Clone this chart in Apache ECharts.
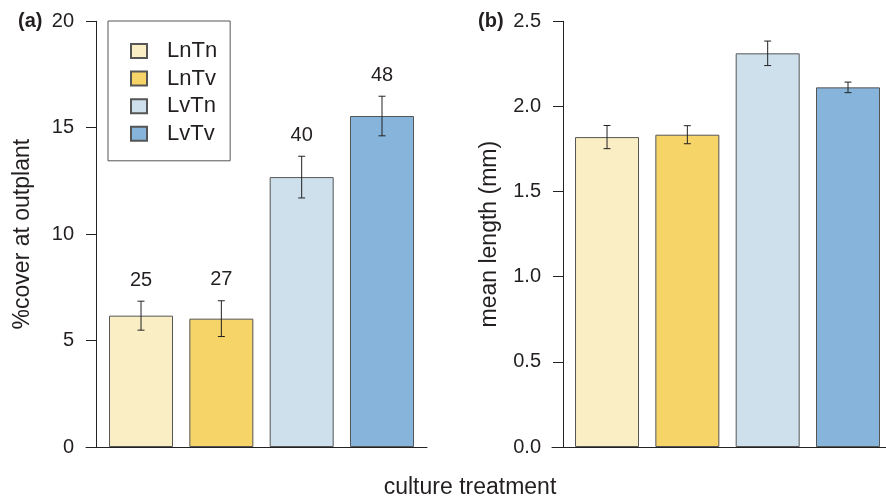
<!DOCTYPE html>
<html>
<head>
<meta charset="utf-8">
<script src="https://cdn.jsdelivr.net/npm/echarts@6/dist/echarts.min.js"></script>
<style>
html,body{margin:0;padding:0;background:#fff;}
#chart{width:886px;height:498px;}
</style>
</head>
<body>
<div id="chart"></div>
<script>
// ---- data ----
const categories = ['LnTn', 'LnTv', 'LvTn', 'LvTv'];
const coverMean = [6.17, 6.03, 12.68, 15.55];
const coverErr = [0.68, 0.84, 0.98, 0.93];
const coverN = [25, 27, 40, 48];
const lengthMean = [1.82, 1.834, 2.312, 2.112];
const lengthErr = [0.068, 0.053, 0.072, 0.031];
const coverTicks = [0, 5, 10, 15, 20];
const lengthTicks = ['0.0', '0.5', '1.0', '1.5', '2.0', '2.5'];
const colors = ['#F9EEC4', '#F6D468', '#CFE0ED', '#86B4DB'];

const TXT = '#231f20';
const FONT = '"Liberation Sans", Arial, Helvetica, sans-serif';

const chart = echarts.init(document.getElementById('chart'), null, {renderer: 'canvas'});

function barSeries(gi, means) {
  return categories.map((c, i) => ({
    name: c,
    type: 'bar',
    xAxisIndex: gi, yAxisIndex: gi,
    stack: 'g' + gi,
    barWidth: 64,
    data: [[i + 1, means[i]]],
    itemStyle: {color: colors[i], borderColor: '#555', borderWidth: 1},
    emphasis: {disabled: true},
    silent: true,
    z: 2
  }));
}

function errSeries(gi, means, errs, ns) {
  return {
    type: 'custom',
    xAxisIndex: gi, yAxisIndex: gi,
    silent: true,
    z: 5,
    data: means.map((m, i) => [i + 1, m - errs[i], m + errs[i], ns ? ns[i] : null]),
    renderItem: function (params, api) {
      const x = api.value(0);
      const top = api.coord([x, api.value(2)]);
      const bot = api.coord([x, api.value(1)]);
      const cap = 3.5;
      const st = {stroke: '#222', lineWidth: 1};
      const children = [
        {type: 'line', shape: {x1: top[0], y1: top[1], x2: bot[0], y2: bot[1]}, style: st},
        {type: 'line', shape: {x1: top[0] - cap, y1: top[1], x2: top[0] + cap, y2: top[1]}, style: st},
        {type: 'line', shape: {x1: bot[0] - cap, y1: bot[1], x2: bot[0] + cap, y2: bot[1]}, style: st}
      ];
      const n = api.value(3);
      if (n !== null && !isNaN(n)) {
        children.push({type: 'text', style: {
          text: String(n), x: top[0], y: top[1] - 21,
          align: 'center', verticalAlign: 'middle',
          font: '20px ' + FONT, fill: TXT
        }});
      }
      return {type: 'group', children: children};
    }
  };
}

function yAxisCfg(gi, max, interval, name, fmt) {
  return {
    type: 'value', gridIndex: gi, min: 0, max: max, interval: interval,
    offset: gi === 0 ? -10 : -11,
    name: name, nameLocation: 'middle', nameGap: 62, nameRotate: 90,
    nameTextStyle: {fontSize: 23, color: TXT, fontFamily: FONT},
    axisLine: {show: true, lineStyle: {color: '#222', width: 1}},
    axisTick: {show: true, length: 10, lineStyle: {color: '#222', width: 1}},
    axisLabel: {fontSize: 20, color: TXT, fontFamily: FONT, margin: 22, formatter: fmt},
    splitLine: {show: false}
  };
}

function xAxisCfg(gi, min, max) {
  return {
    type: 'value', gridIndex: gi, min: min, max: max,
    axisLine: {show: true, onZero: false, lineStyle: {color: '#222', width: 1}},
    axisTick: {show: false}, axisLabel: {show: false}, splitLine: {show: false}
  };
}

const option = {
  backgroundColor: '#fff',
  animation: false,
  textStyle: {fontFamily: FONT},
  grid: [
    {left: 86, right: 459, top: 21.3, bottom: 51},
    {left: 552, right: 0, top: 21.3, bottom: 51}
  ],
  xAxis: [xAxisCfg(0, 0.315, 4.560), xAxisCfg(1, 0.315, 4.473)],
  yAxis: [
    yAxisCfg(0, 20, 5, '%cover at outplant', v => String(coverTicks[Math.round(v / 5)] ?? v)),
    yAxisCfg(1, 2.5, 0.5, 'mean length (mm)', v => lengthTicks[Math.round(v / 0.5)] ?? v.toFixed(1))
  ],
  legend: {
    data: categories,
    orient: 'vertical',
    left: 108, top: 21,
    padding: [19, 13, 16, 22],
    itemWidth: 16, itemHeight: 14,
    itemGap: 5.6,
    icon: 'rect',
    borderColor: '#555', borderWidth: 1,
    selectedMode: false,
    textStyle: {fontSize: 22, color: TXT, fontFamily: FONT, padding: [0, 0, 0, 15]}
  },
  graphic: [
    {type: 'text', left: 18, top: 11, style: {text: '(a)', font: 'bold 20px ' + FONT, fill: TXT}},
    {type: 'text', left: 478, top: 11, style: {text: '(b)', font: 'bold 20px ' + FONT, fill: TXT}},
    {type: 'text', x: 470, y: 488, style: {text: 'culture treatment', font: '23px ' + FONT, fill: TXT, align: 'center', verticalAlign: 'middle'}}
  ],
  series: [
    ...barSeries(0, coverMean),
    ...barSeries(1, lengthMean),
    errSeries(0, coverMean, coverErr, coverN),
    errSeries(1, lengthMean, lengthErr, null)
  ]
};
chart.setOption(option);
</script>
</body>
</html>
